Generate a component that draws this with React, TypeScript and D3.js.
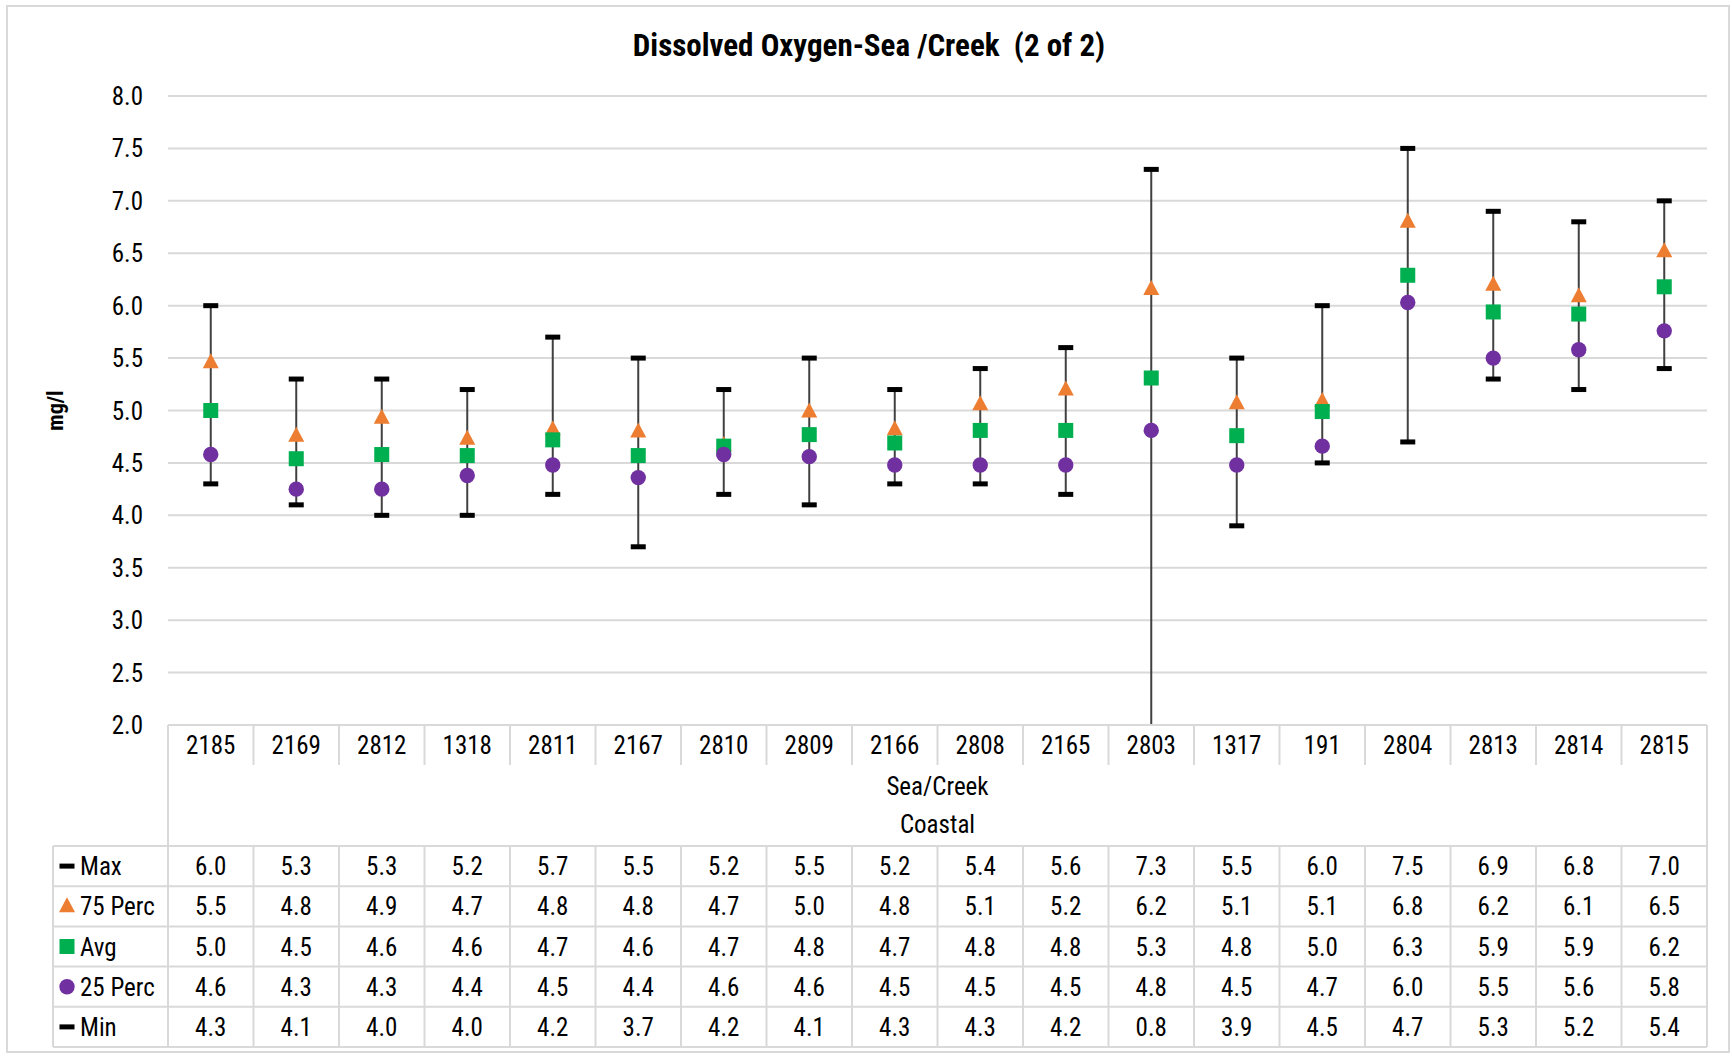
import * as React from "react";
import * as d3 from "d3";

const categories = ["2185", "2169", "2812", "1318", "2811", "2167", "2810", "2809", "2166", "2808", "2165", "2803", "1317", "191", "2804", "2813", "2814", "2815"];
const maxValues = [6.0, 5.3, 5.3, 5.2, 5.7, 5.5, 5.2, 5.5, 5.2, 5.4, 5.6, 7.3, 5.5, 6.0, 7.5, 6.9, 6.8, 7.0];
const perc75Values = [5.46, 4.76, 4.93, 4.73, 4.82, 4.8, 4.67, 4.99, 4.82, 5.06, 5.2, 6.16, 5.07, 5.09, 6.8, 6.2, 6.09, 6.52];
const avgValues = [5.0, 4.54, 4.58, 4.57, 4.72, 4.57, 4.66, 4.77, 4.69, 4.81, 4.81, 5.31, 4.76, 4.99, 6.29, 5.94, 5.92, 6.18];
const perc25Values = [4.58, 4.25, 4.25, 4.38, 4.48, 4.36, 4.58, 4.56, 4.48, 4.48, 4.48, 4.81, 4.48, 4.66, 6.03, 5.5, 5.58, 5.76];
const minValues = [4.3, 4.1, 4.0, 4.0, 4.2, 3.7, 4.2, 4.1, 4.3, 4.3, 4.2, 0.8, 3.9, 4.5, 4.7, 5.3, 5.2, 5.4];
const yTicks = [2.0, 2.5, 3.0, 3.5, 4.0, 4.5, 5.0, 5.5, 6.0, 6.5, 7.0, 7.5, 8.0];

const title = "Dissolved Oxygen-Sea /Creek  (2 of 2)";
const groupLabels = ["Sea/Creek", "Coastal"];

const ORANGE = "#ED7D31";
const GREEN = "#00B050";
const PURPLE = "#7030A0";
const GRID = "#d9d9d9";
const FONT = "'Liberation Sans Narrow', 'Arial Narrow', 'Roboto Condensed', sans-serif";

const rows = [
  { key: "Max", values: maxValues, marker: "dash" },
  { key: "75 Perc", values: perc75Values, marker: "triangle" },
  { key: "Avg", values: avgValues, marker: "square" },
  { key: "25 Perc", values: perc25Values, marker: "circle" },
  { key: "Min", values: minValues, marker: "dash" }
];

function Marker({ type, x, y }: { type: string; x: number; y: number }) {
  if (type === "dash") return <rect x={x - 7.5} y={y - 2.5} width={15} height={5} fill="#000" />;
  if (type === "triangle")
    return <path d={`M${x},${y - 9} L${x + 8},${y + 6} L${x - 8},${y + 6} Z`} fill={ORANGE} />;
  if (type === "square") return <rect x={x - 7.5} y={y - 7.5} width={15} height={15} fill={GREEN} />;
  return <circle cx={x} cy={y} r={7.7} fill={PURPLE} />;
}

export default function App() {
  const width = 1732;
  const height = 1056;
  const left = 168;
  const right = 1707;
  const top = 96;
  const bottom = 725;

  const x = d3.scaleBand().domain(categories).range([left, right]);
  const y = d3.scaleLinear().domain([2, 8]).range([bottom, top]);
  const bw = x.bandwidth();
  const fmt = d3.format(".1f");

  const tableTop = 846;
  const rowH = 40.2;
  const tableLeft = 53;

  return (
    <svg width={width} height={height} style={{ position: "absolute", left: 0, top: 0, background: "#fff" }} fontFamily={FONT}>
      <rect x={7} y={6} width={1722} height={1046} fill="#fff" stroke={GRID} strokeWidth={2} />
      <defs>
        <clipPath id="plot">
          <rect x={left} y={top - 20} width={right - left} height={bottom - top + 20} />
        </clipPath>
      </defs>
      <text x={869} y={56} textAnchor="middle" fontSize={31} fontWeight="bold" style={{ whiteSpace: "pre" }}>
        {title}
      </text>

      {yTicks.map(t => (
        <g key={t}>
          {t > 2 && <line x1={left} x2={right} y1={y(t)} y2={y(t)} stroke={GRID} strokeWidth={2} />}
          <text x={143} y={y(t) + 9} textAnchor="end" fontSize={25}>
            {fmt(t)}
          </text>
        </g>
      ))}

      <text transform={`translate(63,${(top + bottom) / 2}) rotate(-90)`} textAnchor="middle" fontSize={22} fontWeight="bold">
        mg/l
      </text>

      <g clipPath="url(#plot)">
        {categories.map((c, i) => {
          const cx = x(c)! + bw / 2;
          return (
            <g key={c}>
              <line x1={cx} x2={cx} y1={y(maxValues[i])} y2={y(minValues[i])} stroke="#404040" strokeWidth={2} />
              {rows.map(r => (
                <Marker key={r.key} type={r.marker} x={cx} y={y(r.values[i])} />
              ))}
            </g>
          );
        })}
      </g>

      {/* axis / category row */}
      <line x1={left} x2={right} y1={bottom} y2={bottom} stroke={GRID} strokeWidth={2} />
      <line x1={left} x2={left} y1={bottom} y2={tableTop + rowH * 5} stroke={GRID} strokeWidth={2} />
      <line x1={right} x2={right} y1={bottom} y2={tableTop + rowH * 5} stroke={GRID} strokeWidth={2} />
      {categories.map((c, i) => (
        <g key={c}>
          {i > 0 && <line x1={x(c)!} x2={x(c)!} y1={bottom} y2={765} stroke={GRID} strokeWidth={2} />}
          <text x={x(c)! + bw / 2} y={754} textAnchor="middle" fontSize={25}>
            {c}
          </text>
        </g>
      ))}
      <text x={(left + right) / 2} y={795} textAnchor="middle" fontSize={25}>
        {groupLabels[0]}
      </text>
      <text x={(left + right) / 2} y={833} textAnchor="middle" fontSize={25}>
        {groupLabels[1]}
      </text>

      {/* data table */}
      {d3.range(6).map(k => (
        <line key={k} x1={tableLeft} x2={right} y1={tableTop + k * rowH} y2={tableTop + k * rowH} stroke={GRID} strokeWidth={2} />
      ))}
      <line x1={tableLeft} x2={tableLeft} y1={tableTop} y2={tableTop + rowH * 5} stroke={GRID} strokeWidth={2} />
      {categories.map((c, i) =>
        i > 0 ? <line key={c} x1={x(c)!} x2={x(c)!} y1={tableTop} y2={tableTop + rowH * 5} stroke={GRID} strokeWidth={2} /> : null
      )}
      {rows.map((r, k) => {
        const cy = tableTop + k * rowH + rowH / 2;
        return (
          <g key={r.key}>
            <Marker type={r.marker} x={67} y={cy} />
            <text x={80} y={cy + 9} fontSize={25}>
              {r.key}
            </text>
            {categories.map((c, i) => (
              <text key={c} x={x(c)! + bw / 2} y={cy + 9} textAnchor="middle" fontSize={25}>
                {fmt(r.values[i])}
              </text>
            ))}
          </g>
        );
      })}
    </svg>
  );
}
